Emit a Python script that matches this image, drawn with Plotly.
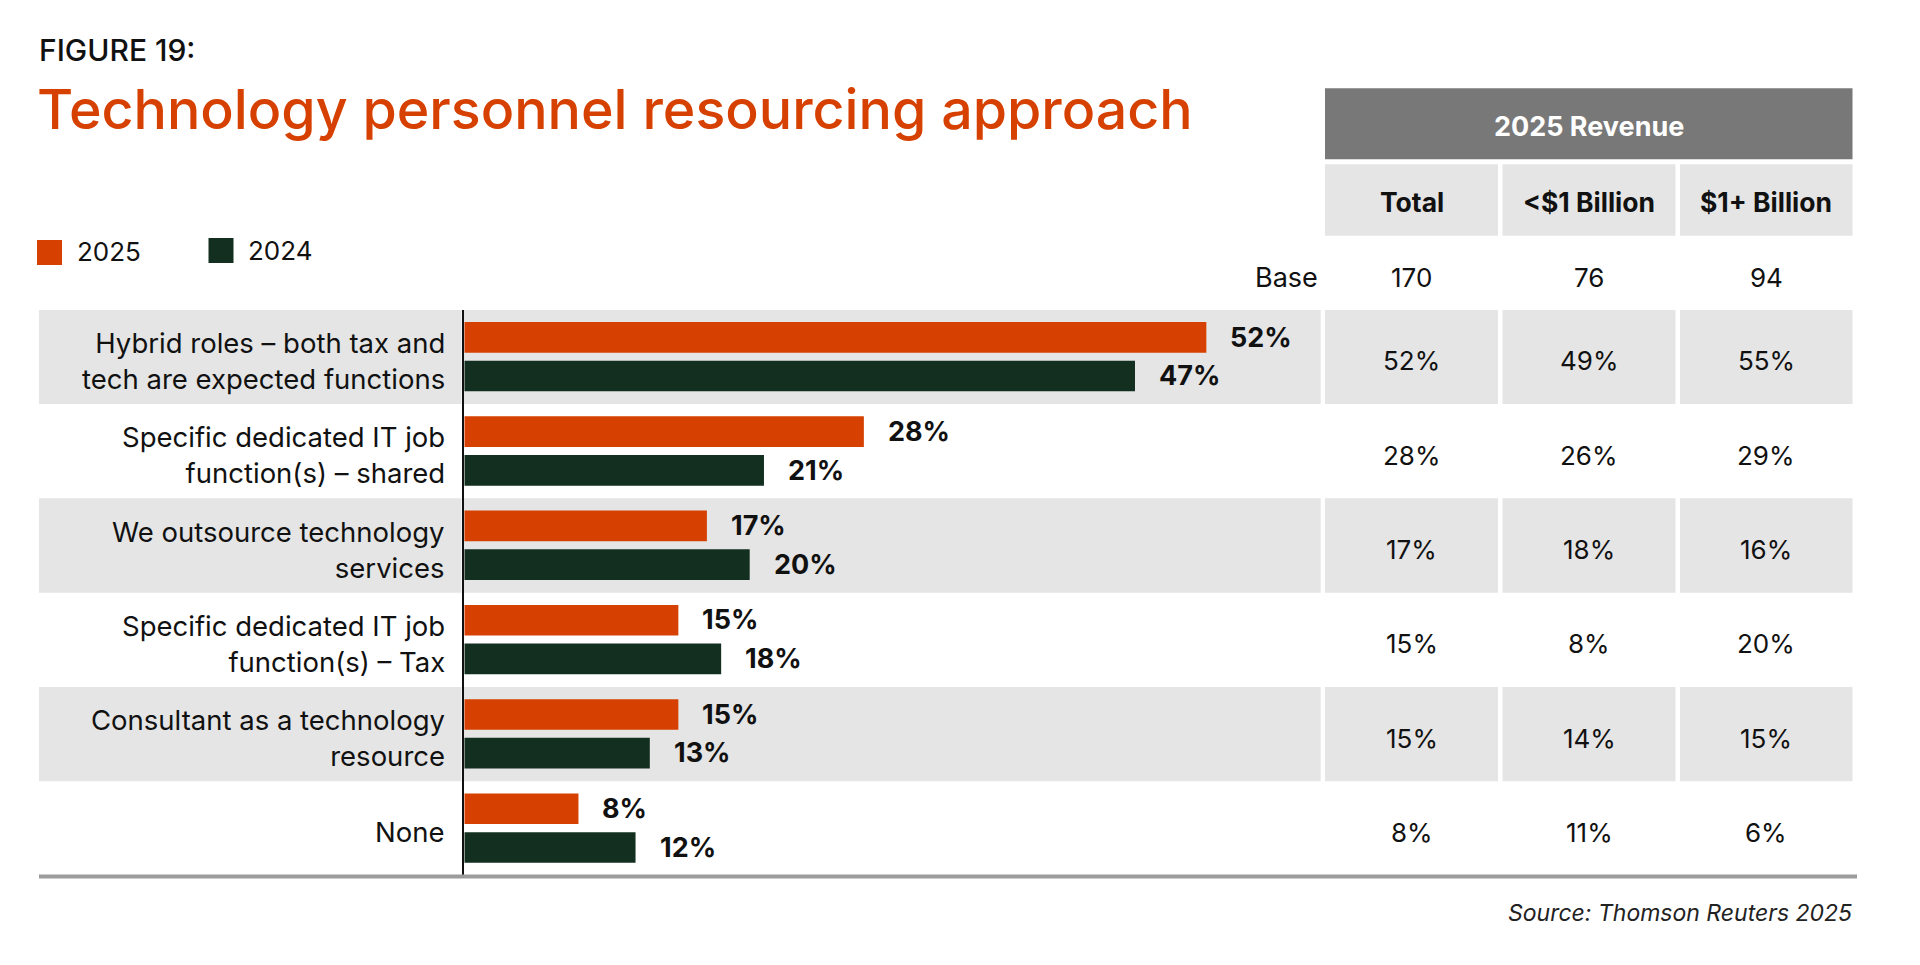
import plotly.graph_objects as go

# page body margin compensation
OFF = 8
W, H = 1920 - 2 * OFF, 965 - 2 * OFF

# ---------------- data ----------------
categories = [
    "Hybrid roles – both tax and<br>tech are expected functions",
    "Specific dedicated IT job<br>function(s) – shared",
    "We outsource technology<br>services",
    "Specific dedicated IT job<br>function(s) – Tax",
    "Consultant as a technology<br>resource",
    "None",
]
values_2025 = [52, 28, 17, 15, 15, 8]
values_2024 = [47, 21, 20, 18, 13, 12]

table_group_title = "2025 Revenue"
table_columns = ["Total", "&lt;$1 Billion", "$1+ Billion"]
base_label = "Base"
base_counts = [170, 76, 94]
table_total = [52, 28, 17, 15, 15, 8]
table_under_1b = [49, 26, 18, 8, 14, 11]
table_over_1b = [55, 29, 16, 20, 15, 6]

series_names = ["2025", "2024"]

# ---------------- style ----------------
ORANGE = "#D64000"
GREEN = "#132F20"
BAND = "#E5E5E5"
HEAD = "#787878"
FONT = "Inter"
TXT = "#111111"


def px(x):
    return (x - OFF) / W


def py(y):
    return 1 - (y - OFF) / H


n = len(categories)
rows = list(range(n))

# table column extents (pixels)
col_x = [(1325, 1498), (1502.5, 1675.5), (1680, 1852.5)]

fig = go.Figure()

fig.add_trace(go.Bar(
    y=rows, x=values_2025, orientation="h", name=series_names[0],
    marker=dict(color=ORANGE, line=dict(width=0)),
    width=0.325, offset=-0.37, showlegend=False,
))
fig.add_trace(go.Bar(
    y=rows, x=values_2024, orientation="h", name=series_names[1],
    marker=dict(color=GREEN, line=dict(width=0)),
    width=0.325, offset=0.04, showlegend=False,
))

shapes = []
annotations = []

# row bands
for i in rows:
    if i % 2 == 0:
        for (x0, x1) in [(39, 461.5), (463, 1320.7)] + col_x:
            shapes.append(dict(type="rect", xref="paper", yref="y",
                               x0=px(x0), x1=px(x1), y0=i - 0.5, y1=i + 0.5,
                               fillcolor=BAND, line=dict(width=0), layer="below"))

# bottom rule
shapes.append(dict(type="line", xref="paper", yref="paper",
                   x0=px(39), x1=px(1857), y0=py(876.5), y1=py(876.5),
                   line=dict(color="#9C9C9C", width=4)))

# table header
shapes.append(dict(type="rect", xref="paper", yref="paper",
                   x0=px(1325), x1=px(1852.5), y0=py(159.3), y1=py(88.3),
                   fillcolor=HEAD, line=dict(width=0)))
for (x0, x1) in col_x:
    shapes.append(dict(type="rect", xref="paper", yref="paper",
                       x0=px(x0), x1=px(x1), y0=py(235.7), y1=py(164.3),
                       fillcolor=BAND, line=dict(width=0)))

# legend squares
shapes.append(dict(type="rect", xref="paper", yref="paper",
                   x0=px(37), x1=px(62), y0=py(265), y1=py(240),
                   fillcolor=ORANGE, line=dict(width=0)))
shapes.append(dict(type="rect", xref="paper", yref="paper",
                   x0=px(208.5), x1=px(233.5), y0=py(263), y1=py(238),
                   fillcolor=GREEN, line=dict(width=0)))


def ann(text, x, y, size, xanchor="left", color=TXT, weight="normal",
        xref="paper", yref="paper", style="normal", **kw):
    annotations.append(dict(
        text=text, x=x, y=y, xref=xref, yref=yref, xanchor=xanchor,
        yanchor="middle", showarrow=False,
        font=dict(family=FONT, size=size, color=color, weight=weight, style=style),
        align="right" if xanchor == "right" else ("center" if xanchor == "center" else "left"),
        **kw))


# titles
ann("FIGURE 19:", px(37), py(50), 30, color="#111111", weight=500)
ann("Technology personnel resourcing approach", px(35), py(108), 55.5,
    color=ORANGE, weight=500)

# legend
ann(series_names[0], px(75), py(252), 26)
ann(series_names[1], px(246), py(250), 26)

# category labels
for i, c in enumerate(categories):
    ann(c, px(447), i, 27.5, xanchor="right", yref="y", yshift=-4)

# bar value labels
for i in rows:
    ann(f"{values_2025[i]}%", values_2025[i], i - 0.21, 27, weight="bold",
        xref="x", yref="y", xshift=22)
    ann(f"{values_2024[i]}%", values_2024[i], i + 0.20, 27, weight="bold",
        xref="x", yref="y", xshift=22)

# table header text
ann(table_group_title, px((1325 + 1852.5) / 2), py(126), 27, xanchor="center",
    color="white", weight="bold")
for j, (x0, x1) in enumerate(col_x):
    ann(table_columns[j], px((x0 + x1) / 2), py(202), 26.5, xanchor="center",
        weight="bold")

# base row
ann(base_label, px(1320), py(277), 27, xanchor="right")
for j, (x0, x1) in enumerate(col_x):
    ann(str(base_counts[j]), px((x0 + x1) / 2), py(277), 26, xanchor="center")

# table values
for j, col in enumerate([table_total, table_under_1b, table_over_1b]):
    x0, x1 = col_x[j]
    for i in rows:
        ann(f"{col[i]}%", px((x0 + x1) / 2), i, 26, xanchor="center", yref="y",
            yshift=-4)

# source
ann("Source: Thomson Reuters 2025", px(1854), py(913), 23, xanchor="right",
    color="#222222", style="italic")

fig.update_layout(
    width=W, height=H,
    margin=dict(l=0, r=0, t=0, b=0),
    paper_bgcolor="white", plot_bgcolor="rgba(0,0,0,0)",
    barmode="overlay",
    showlegend=False,
    shapes=shapes,
    annotations=annotations,
    xaxis=dict(domain=[px(464.3), px(1320.5)], range=[0, 60],
               showgrid=False, zeroline=False, showticklabels=False,
               showline=False, fixedrange=True),
    yaxis=dict(domain=[py(875.5), py(309.8)], range=[n - 0.5, -0.5],
               showgrid=False, zeroline=False, showticklabels=False,
               showline=True, linecolor="#111111", linewidth=1.5,
               fixedrange=True),
    font=dict(family=FONT),
)

fig.write_html("out.html", config={"displayModeBar": False})
